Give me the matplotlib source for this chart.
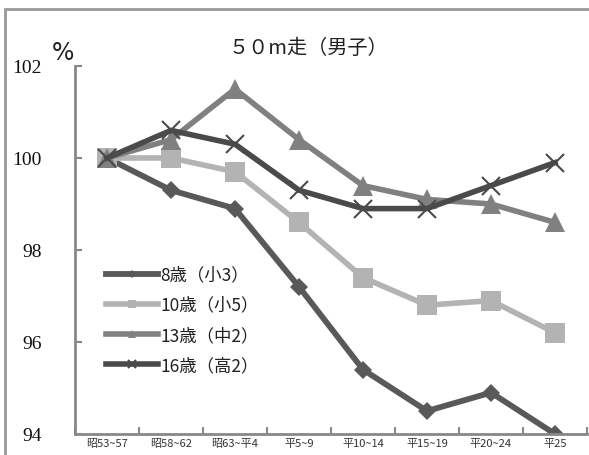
import matplotlib.pyplot as plt
from matplotlib.patches import Rectangle
import numpy as np

# default text (y tick numbers) in a serif face, Japanese text set per item
plt.rcParams['font.family'] = ['Liberation Serif', 'Noto Sans CJK JP']
jp = ['Noto Sans CJK JP', 'DejaVu Sans']

periods = ['昭53~57', '昭58~62', '昭63~平4', '平5~9', '平10~14', '平15~19', '平20~24', '平25']
age8 = [100, 99.3, 98.9, 97.2, 95.4, 94.5, 94.9, 94.0]
age10 = [100, 100, 99.7, 98.6, 97.4, 96.8, 96.9, 96.2]
age13 = [100, 100.4, 101.5, 100.4, 99.4, 99.1, 99.0, 98.6]
age16 = [100, 100.6, 100.3, 99.3, 98.9, 98.9, 99.4, 99.9]
names = ['8歳（小3）', '10歳（小5）', '13歳（中2）', '16歳（高2）']
yticks = [94, 96, 98, 100, 102]

fig = plt.figure(figsize=(5.89, 4.56), dpi=100)
ax = fig.add_axes([75 / 589, 1 - 435 / 456, 512 / 589, 368 / 456])

# outer frame (cut at right/bottom like the source)
fig.add_artist(Rectangle((5 / 589, -0.1), 1.2, 1 - 10 / 456 + 0.1, transform=fig.transFigure,
                         fill=False, edgecolor='#999999', lw=2))

x = np.arange(len(periods))
styles = [
    (age8, '#595959', 'D', 9, 4.2),
    (age10, '#b3b3b3', 's', 14, 4.0),
    (age13, '#808080', '^', 14, 4.0),
    (age16, '#4a4a4a', 'x', 13, 4.0),
]
for (vals, col, mk, ms, lw), nm in zip(styles, names):
    kw = dict(markeredgewidth=1.5) if mk == 'x' else dict(markeredgewidth=0)
    ax.plot(x, vals, color=col, lw=lw, marker=mk, ms=ms, label=nm, **kw)

ax.set_xlim(-0.5, len(periods) - 0.5)
ax.set_ylim(94, 102)
ax.set_yticks(yticks)
ax.set_xticks(np.arange(len(periods) + 1) - 0.5)
ax.set_xticklabels([])
ax.set_xticks(x, minor=True)
ax.set_xticklabels(periods, minor=True, fontsize=8, color='#333333', family=jp)
ax.tick_params(axis='x', which='minor', length=0, pad=3)
ax.tick_params(axis='both', which='major', direction='in', length=5, width=1.5,
               color='#888888')
ax.tick_params(axis='y', pad=24, labelsize=14, labelcolor='#111111')
for s in ['top', 'right']:
    ax.spines[s].set_visible(False)
for s in ['left', 'bottom']:
    ax.spines[s].set_color('#888888')
    ax.spines[s].set_linewidth(2)

fig.text(308 / 589, 1 - 48 / 456, '５０m走（男子）', ha='center', va='center', fontsize=14.5,
         color='#222222', family=jp)
fig.text(63 / 589, 1 - 53 / 456, '%', ha='center', va='center', fontsize=17,
         family='DejaVu Sans', color='#222222')

leg = ax.legend(loc='upper left', bbox_to_anchor=(0.03, 0.5), frameon=False,
                prop={'family': jp, 'size': 12.5},
                handlelength=3.0, markerscale=0.45, labelspacing=0.7, handletextpad=0.15)
for t in leg.get_texts():
    t.set_color('#222222')

fig.savefig('out.png', dpi=100)
